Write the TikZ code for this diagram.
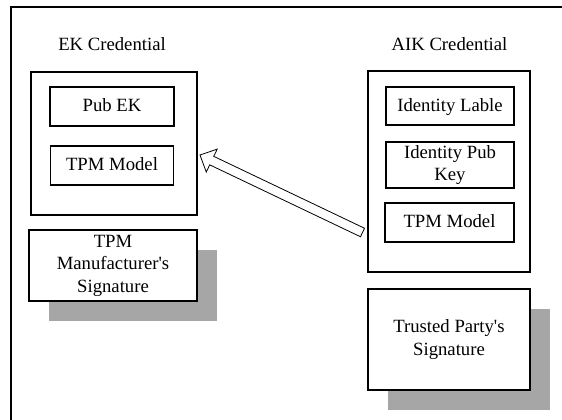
\documentclass[tikz,border=0pt]{standalone}
\usepackage{fontspec}
\setmainfont{Liberation Serif}
\usetikzlibrary{calc,shadows}
\definecolor{shadowgray}{HTML}{A6A6A6}
\tikzset{
  txt/.style={font=\fontsize{18.7}{22.5}\selectfont},
  box/.style={txt, draw=black, line width=1.2pt, fill=white, inner sep=0pt, align=center},
  field/.style={box, text height=12.5pt, text depth=2pt},
  shadowed/.style={general shadow={fill=shadowgray, shadow xshift=20pt, shadow yshift=-20pt}},
  frame/.style={line width=2pt},
  blockarrow/.style={draw=black, line width=0.8pt, fill=white, line join=miter}
}
\begin{document}
\begin{tikzpicture}[x=1pt,y=-1pt]
\useasboundingbox (0,0) rectangle (562,420);
\draw[frame] (11,421) -- (11,7) -- (563,7);

% EK credential
\node[txt, anchor=base] (ektitle) at (112,51) {EK Credential};
\node[box, minimum width=166pt, minimum height=143pt] (ekbox) at (114,143.5) {};
\node[field, minimum width=124pt, minimum height=39pt] (pubek) at (112,106.5) {Pub EK};
\node[field, minimum width=123pt, minimum height=39pt] (ektpm) at (112,165.5) {TPM Model};
\node[box, shadowed, minimum width=168pt, minimum height=71pt] (tpmsig) at (113,265.5) {TPM\\Manufacturer\textquotesingle s\\Signature};

% AIK credential
\node[txt, anchor=base] (aiktitle) at (449.5,51) {AIK Credential};
\node[box, minimum width=162pt, minimum height=201pt] (aikbox) at (449,171.5) {};
\node[field, minimum width=128pt, minimum height=38pt] (idlabel) at (450,106) {Identity Lable};
\node[box, minimum width=128pt, minimum height=46pt] (idpub) at (450,165) {Identity Pub\\Key};
\node[field, minimum width=129pt, minimum height=39pt] (aiktpm) at (449.5,222.5) {TPM Model};
\node[box, shadowed, minimum width=162pt, minimum height=101pt] (tpsig) at (449,339.5) {Trusted Party\textquotesingle s\\Signature};

% hollow block arrow
\coordinate (atail) at (362.5,232.5);
\coordinate (atip) at (200,155);
\coordinate (ahead) at ($(atip)!13pt!(atail)$);
\draw[blockarrow]
  (atip)
  -- ($(ahead)!12.7pt!90:(atip)$)
  -- ($(ahead)!4.7pt!90:(atip)$)
  -- ($(atail)!4.7pt!90:(atip)$)
  -- ($(atail)!4.7pt!-90:(atip)$)
  -- ($(ahead)!4.7pt!-90:(atip)$)
  -- ($(ahead)!12.7pt!-90:(atip)$)
  -- cycle;
\end{tikzpicture}
\end{document}
